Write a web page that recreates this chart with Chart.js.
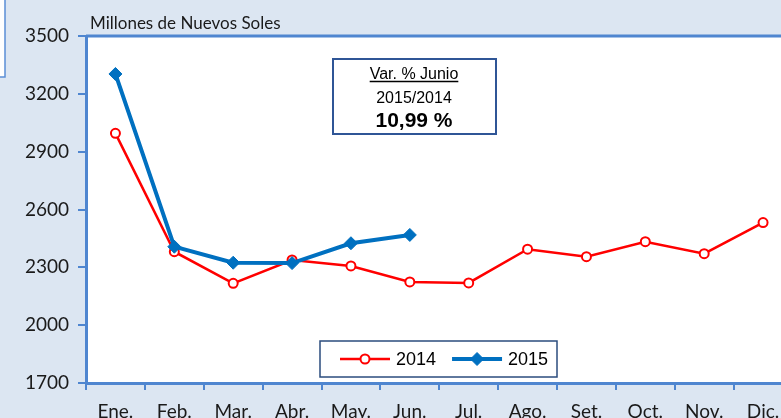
<!DOCTYPE html>
<html>
<head>
<meta charset="utf-8">
<script src="https://cdn.jsdelivr.net/npm/chart.js@4.4.1/dist/chart.umd.min.js"></script>
<style>
html, body { margin: 0; padding: 0; overflow: hidden; background: #dce6f2; }
#wrap { width: 781px; height: 418px; overflow: hidden; }
canvas { display: block; }
</style>
</head>
<body>
<div id="wrap"><canvas id="recaudacion" width="800" height="418"></canvas></div>
<script>
const meses = ["Ene.","Feb.","Mar.","Abr.","May.","Jun.","Jul.","Ago.","Set.","Oct.","Nov.","Dic."];
const serie2014 = [2995, 2381, 2217, 2338, 2307, 2224, 2219, 2394, 2355, 2433, 2371, 2532];
const serie2015 = [3303, 2407, 2324, 2322, 2425, 2468];
const ticksY = [1700, 2000, 2300, 2600, 2900, 3200, 3500];
const recuadro = ["Var. % Junio", "2015/2014", "10,99 %"];
const unidad = "Millones de Nuevos Soles";

const AZUL_EJE = "#4f86d0";

// fondo blanco del área, títulos, recuadro y leyenda
const adornos = {
  id: "adornos",
  beforeDraw(chart) {
    const { ctx, chartArea: a } = chart;
    ctx.save();
    ctx.fillStyle = "#fff";
    ctx.fillRect(a.left, a.top, a.right - a.left, a.bottom - a.top);
    ctx.strokeStyle = AZUL_EJE;
    ctx.lineWidth = 3;
    ctx.beginPath();
    ctx.moveTo(a.left, a.top);
    ctx.lineTo(a.right, a.top);
    ctx.lineTo(a.right, a.bottom);
    ctx.stroke();

    // trozo de otra forma en la esquina
    ctx.fillStyle = "#fff";
    ctx.fillRect(0, 0, 5, 77);
    ctx.lineWidth = 1.5;
    ctx.strokeStyle = "#5b8fd6";
    ctx.beginPath();
    ctx.moveTo(5, 0);
    ctx.lineTo(5, 77);
    ctx.lineTo(0, 77);
    ctx.stroke();

    ctx.fillStyle = "#1a1a1a";
    ctx.font = "17px Lato";
    ctx.textBaseline = "alphabetic";
    ctx.fillText(unidad, 90, 29);
    ctx.restore();
  },
  afterDraw(chart) {
    const { ctx } = chart;
    ctx.save();

    // recuadro de variación
    ctx.fillStyle = "#fff";
    ctx.fillRect(333, 59, 163, 75);
    ctx.strokeStyle = "#2f5596";
    ctx.lineWidth = 2;
    ctx.strokeRect(333, 59, 163, 75);
    ctx.fillStyle = "#000";
    ctx.textAlign = "center";
    ctx.font = "16px 'Liberation Sans'";
    ctx.fillText(recuadro[0], 414, 79);
    const w = ctx.measureText(recuadro[0]).width;
    ctx.lineWidth = 1.3;
    ctx.strokeStyle = "#000";
    ctx.beginPath();
    ctx.moveTo(414 - w / 2, 81.5);
    ctx.lineTo(414 + w / 2, 81.5);
    ctx.stroke();
    ctx.fillText(recuadro[1], 414, 103);
    ctx.font = "bold 21px 'Liberation Sans'";
    ctx.fillText(recuadro[2], 414, 127);

    // leyenda
    ctx.fillStyle = "#fff";
    ctx.fillRect(320, 341, 237, 36);
    ctx.strokeStyle = "#2b4c7e";
    ctx.lineWidth = 1.5;
    ctx.strokeRect(320, 341, 237, 36);
    ctx.font = "18px 'Liberation Sans'";
    ctx.textAlign = "left";
    ctx.textBaseline = "middle";
    let x = 340;
    const y = 359;
    chart.data.datasets.forEach(ds => {
      ctx.strokeStyle = ds.borderColor;
      ctx.lineWidth = ds.borderWidth;
      ctx.beginPath();
      ctx.moveTo(x, y);
      ctx.lineTo(x + 50, y);
      ctx.stroke();
      ctx.fillStyle = ds.pointBackgroundColor;
      ctx.strokeStyle = ds.pointBorderColor;
      ctx.lineWidth = ds.pointBorderWidth;
      Chart.helpers.drawPoint(ctx, {
        pointStyle: ds.pointStyle, radius: ds.pointRadius,
        borderWidth: ds.pointBorderWidth, rotation: 0
      }, x + 25, y);
      ctx.fillStyle = "#000";
      ctx.fillText(ds.label, x + 56, y + 1);
      x += 56 + ctx.measureText(ds.label).width + 16;
    });
    ctx.restore();
  }
};

new Chart(document.getElementById("recaudacion").getContext("2d"), {
  type: "line",
  data: {
    labels: meses,
    datasets: [{
      label: "2014",
      data: serie2014,
      borderColor: "#ff0000",
      borderWidth: 2.5,
      pointStyle: "circle",
      pointRadius: 4.5,
      pointBorderWidth: 2,
      pointBorderColor: "#ff0000",
      pointBackgroundColor: "#ffffff",
      order: 2
    }, {
      label: "2015",
      data: serie2015,
      borderColor: "#0070c0",
      borderWidth: 4,
      pointStyle: "rectRot",
      pointRadius: 6.5,
      pointBorderWidth: 1,
      pointBorderColor: "#0070c0",
      pointBackgroundColor: "#0070c0",
      order: 1
    }]
  },
  options: {
    responsive: false,
    animation: false,
    layout: { padding: { top: 36, right: 6, left: 0, bottom: 0 } },
    plugins: { legend: { display: false }, tooltip: { enabled: false } },
    scales: {
      x: {
        offset: true,
        afterFit: s => { s.height = 35; },
        grid: { offset: true, drawOnChartArea: false, tickLength: 7, color: AZUL_EJE, lineWidth: 2 },
        border: { color: AZUL_EJE, width: 3 },
        ticks: { autoSkip: false, maxRotation: 0, padding: 10, color: "#1a1a1a", font: { family: "Lato", size: 19 } }
      },
      y: {
        min: ticksY[0],
        max: ticksY[ticksY.length - 1],
        afterBuildTicks: s => { s.ticks = ticksY.map(v => ({ value: v })); },
        afterFit: s => { s.width = 86; },
        grid: { drawOnChartArea: false, tickLength: 8, color: AZUL_EJE, lineWidth: 2 },
        border: { color: AZUL_EJE, width: 3 },
        ticks: { padding: 9, color: "#1a1a1a", font: { family: "Lato", size: 19 }, callback: v => String(v) }
      }
    }
  },
  plugins: [adornos]
});
</script>
</body>
</html>
